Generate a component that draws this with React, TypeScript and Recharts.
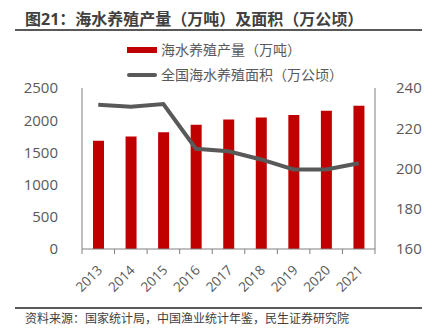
import React from 'react';
import { ComposedChart, Bar, Line, XAxis, YAxis } from 'recharts';

const years = ['2013', '2014', '2015', '2016', '2017', '2018', '2019', '2020', '2021'];
const output = [1680, 1745, 1812, 1930, 2010, 2043, 2080, 2145, 2225];
const area = [231.7, 230.7, 232.0, 209.8, 208.6, 204.5, 199.5, 199.5, 202.6];
const leftTicks = [0, 500, 1000, 1500, 2000, 2500];
const rightTicks = [160, 180, 200, 220, 240];
const title = '图21：海水养殖产量（万吨）及面积（万公顷）';
const outputName = '海水养殖产量（万吨）';
const areaName = '全国海水养殖面积（万公顷）';
const source = '资料来源：国家统计局，中国渔业统计年鉴，民生证券研究院';

const font = 'Open Sans, Noto Sans CJK SC, sans-serif';
const grey = '#595959';

const data = years.map((year, i) => ({ year, output: output[i], area: area[i] }));

// labels sit on the category centre, tick marks on the boundaries (Excel style)
const YearTick = (props: any) => {
  const { x, y, payload, index } = props;
  const off = payload.offset || 0;
  return (
    <g>
      <line x1={x - off} y1={y} x2={x - off} y2={y + 5} stroke="#808080" />
      {index === years.length - 1 && (
        <line x1={x + off} y1={y} x2={x + off} y2={y + 5} stroke="#808080" />
      )}
      <text
        x={x + 5}
        y={y + 22}
        textAnchor="end"
        fill={grey}
        fontSize={13.5}
        fontFamily={font}
        transform={`rotate(-45 ${x + 5} ${y + 22})`}
      >
        {payload.value}
      </text>
    </g>
  );
};

const App: React.FC = () => {
  return (
    <div style={{ position: 'absolute', left: 0, top: 0, width: 433, height: 332, background: '#fff', fontFamily: font }}>
      <div style={{ position: 'absolute', left: 25, top: 7, fontSize: 16, fontWeight: 'bold', color: '#404040', whiteSpace: 'nowrap', lineHeight: '24px' }}>
        {title}
      </div>
      <div style={{ position: 'absolute', left: 15, top: 29, width: 407, height: 1.5, background: grey }} />

      {/* legend */}
      <div style={{ position: 'absolute', left: 127, top: 47, width: 30, height: 6, background: '#C00000' }} />
      <div style={{ position: 'absolute', left: 161, top: 40, fontSize: 14, color: grey, lineHeight: '20px', whiteSpace: 'nowrap' }}>
        {outputName}
      </div>
      <div style={{ position: 'absolute', left: 127, top: 73, width: 30, height: 4, background: grey, borderRadius: 2 }} />
      <div style={{ position: 'absolute', left: 161, top: 65, fontSize: 14, color: grey, lineHeight: '20px', whiteSpace: 'nowrap' }}>
        {areaName}
      </div>

      <div style={{ position: 'absolute', left: 0, top: 0 }}>
        <ComposedChart width={433} height={332} data={data} margin={{ top: 88, right: 0, bottom: 0, left: 0 }}>
          <XAxis
            dataKey="year"
            height={83}
            axisLine={{ stroke: '#808080' }}
            tickLine={false}
            tickSize={0}
            tickMargin={0}
            interval={0}
            tick={<YearTick />}
          />
          <YAxis
            yAxisId="left"
            width={82}
            domain={[0, 2500]}
            ticks={leftTicks}
            axisLine={{ stroke: '#808080' }}
            tickLine={false}
            tickMargin={18}
            tick={{ fill: grey, fontSize: 15, fontFamily: font }}
          />
          <YAxis
            yAxisId="right"
            orientation="right"
            width={58}
            domain={[160, 240]}
            ticks={rightTicks}
            axisLine={{ stroke: '#808080' }}
            tickLine={false}
            tickMargin={15}
            tick={{ fill: grey, fontSize: 15, fontFamily: font }}
          />
          <Bar yAxisId="left" dataKey="output" name={outputName} fill="#C00000" barSize={11} isAnimationActive={false} />
          <Line
            yAxisId="right"
            dataKey="area"
            name={areaName}
            stroke={grey}
            strokeWidth={4}
            dot={false}
            type="linear"
            isAnimationActive={false}
          />
        </ComposedChart>
      </div>

      <div style={{ position: 'absolute', left: 15, top: 307, width: 407, height: 1.5, background: grey }} />
      <div style={{ position: 'absolute', left: 25, top: 311, fontSize: 12, color: '#404040', lineHeight: '16px', whiteSpace: 'nowrap' }}>
        {source}
      </div>
    </div>
  );
};

export default App;
